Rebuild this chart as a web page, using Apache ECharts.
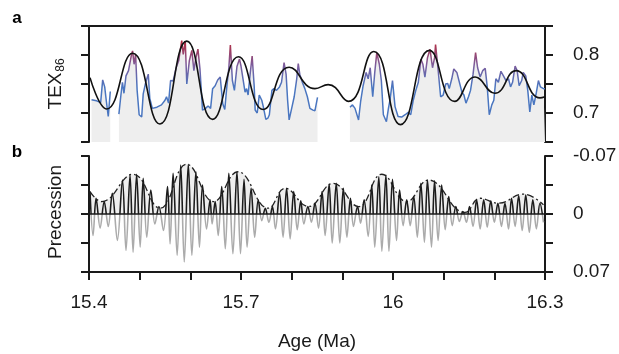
<!DOCTYPE html>
<html>
<head>
<meta charset="utf-8">
<script src="https://cdn.jsdelivr.net/npm/echarts@6/dist/echarts.min.js"></script>
<style>
html, body { margin: 0; padding: 0; background: #fff; }
#chart { width: 619px; height: 354px; }
</style>
</head>
<body>
<div id="chart"></div>
<script>
// panel a: TEX86 samples, age in Ma (null = no data)
var texAge = [
  15.405, 15.415, 15.423, 15.427, 15.431, 15.434, 15.438, 15.442, 15.450, 15.459,
  15.463, 15.466, 15.469, 15.473, 15.478, 15.481, 15.484, 15.486, 15.489, 15.492,
  15.495, 15.499, 15.504, 15.507, 15.512, 15.517, 15.520, 15.525, 15.534, 15.543,
  15.550, 15.553, 15.557, 15.561, 15.566, 15.572, 15.577, 15.583, 15.586, 15.590,
  15.593, 15.598, 15.603, 15.607, 15.611, 15.615, 15.619, 15.624, 15.630, 15.635,
  15.640, 15.644, 15.649, 15.654, 15.659, 15.664, 15.668, 15.672, 15.676, 15.679,
  15.683, 15.687, 15.692, 15.697, 15.700, 15.703, 15.708, 15.711, 15.714, 15.718,
  15.722, 15.726, 15.728, 15.732, 15.736, 15.741, 15.744, 15.749, 15.753, 15.756,
  15.761, 15.765, 15.770, 15.776, 15.780, 15.785, 15.789, 15.792, 15.795, 15.800,
  15.805, 15.810, 15.813, 15.816, 15.821, 15.826, 15.831, 15.836, 15.842, 15.846,
  15.851, 15.880, 15.915, 15.920, 15.925, 15.932, 15.936, 15.941, 15.947, 15.951,
  15.955, 15.960, 15.964, 15.968, 15.973, 15.977, 15.981, 15.987, 15.991, 15.994,
  15.999, 16.004, 16.010, 16.017, 16.024, 16.030, 16.035, 16.040, 16.045, 16.050,
  16.055, 16.059, 16.063, 16.068, 16.073, 16.078, 16.082, 16.084, 16.088, 16.094,
  16.099, 16.104, 16.108, 16.111, 16.116, 16.120, 16.126, 16.131, 16.136, 16.140,
  16.144, 16.149, 16.153, 16.158, 16.163, 16.167, 16.172, 16.177, 16.182, 16.186,
  16.190, 16.195, 16.199, 16.203, 16.208, 16.213, 16.218, 16.223, 16.228, 16.232,
  16.236, 16.241, 16.245, 16.249, 16.254, 16.257, 16.262, 16.266, 16.270, 16.274,
  16.278, 16.282, 16.287, 16.291, 16.297, 16.300
];
var texVal = [
  0.723, 0.721, 0.718, 0.757, 0.745, 0.722, 0.694, 0.737, null, 0.698,
  0.731, 0.753, 0.734, 0.764, 0.773, 0.776, 0.801, 0.807, 0.784, 0.801,
  0.739, 0.697, 0.693, 0.733, 0.753, 0.767, 0.725, 0.708, 0.710, 0.714,
  0.722, 0.728, 0.717, 0.756, 0.755, 0.778, 0.790, 0.825, 0.801, 0.824,
  0.750, 0.790, 0.808, 0.773, 0.795, 0.810, 0.776, 0.705, 0.708, 0.712,
  0.708, 0.742, 0.747, 0.757, 0.762, 0.716, 0.706, 0.745, 0.778, 0.817,
  0.756, 0.739, 0.780, 0.793, 0.781, 0.778, 0.736, 0.742, 0.731, 0.767,
  0.798, 0.747, 0.705, 0.700, 0.731, 0.722, 0.711, 0.689, 0.691, 0.697,
  0.739, 0.742, 0.739, 0.745, 0.753, 0.787, 0.767, 0.722, 0.688, 0.708,
  0.728, 0.759, 0.785, 0.767, 0.753, 0.742, 0.728, 0.708, 0.705, 0.704,
  0.727, null, 0.710, 0.714, 0.708, 0.688, 0.719, 0.747, 0.770, 0.759,
  0.778, 0.728, 0.770, 0.804, 0.784, 0.756, 0.697, 0.685, 0.708, 0.722,
  0.756, 0.711, 0.694, 0.693, 0.697, 0.701, 0.697, 0.722, 0.739, 0.753,
  0.793, 0.784, 0.762, 0.795, 0.810, 0.778, 0.795, 0.818, 0.784, 0.728,
  0.731, 0.750, 0.751, 0.742, 0.759, 0.776, 0.770, 0.753, 0.736, 0.731,
  0.717, 0.728, 0.739, 0.767, 0.804, 0.778, 0.762, 0.773, 0.777, 0.745,
  0.697, 0.714, 0.722, 0.759, 0.753, 0.772, 0.764, 0.756, 0.759, 0.745,
  0.753, 0.781, 0.773, 0.747, 0.756, 0.770, 0.764, 0.739, 0.702, 0.731,
  0.714, 0.731, 0.756, 0.745, 0.742, 0.742
];

// panel a: filtered TEX86 curve (turning points)
var fitAge = [15.402, 15.435, 15.486, 15.540, 15.593, 15.644, 15.695, 15.744, 15.795, 15.846,
              15.872, 15.912, 15.962, 16.015, 16.072, 16.122, 16.162, 16.201, 16.243, 16.290, 16.300];
var fitVal = [0.761, 0.707, 0.803, 0.681, 0.824, 0.689, 0.797, 0.706, 0.779, 0.742,
              0.749, 0.720, 0.806, 0.680, 0.808, 0.720, 0.762, 0.734, 0.773, 0.726, 0.728];

// panel b: precession (turning points)
var precAge = [
  15.402, 15.408, 15.414, 15.422, 15.430, 15.438, 15.446, 15.456, 15.466, 15.473,
  15.481, 15.487, 15.494, 15.501, 15.507, 15.514, 15.522, 15.530, 15.538, 15.547,
  15.555, 15.560, 15.566, 15.574, 15.581, 15.588, 15.596, 15.603, 15.611, 15.618,
  15.624, 15.632, 15.639, 15.643, 15.649, 15.655, 15.662, 15.669, 15.676, 15.684,
  15.692, 15.699, 15.706, 15.712, 15.720, 15.727, 15.734, 15.741, 15.748, 15.755,
  15.762, 15.768, 15.776, 15.783, 15.790, 15.797, 15.804, 15.811, 15.818, 15.824,
  15.832, 15.839, 15.846, 15.853, 15.860, 15.866, 15.874, 15.880, 15.888, 15.895,
  15.902, 15.909, 15.916, 15.922, 15.930, 15.936, 15.943, 15.951, 15.958, 15.964,
  15.972, 15.978, 15.986, 15.992, 15.999, 16.007, 16.013, 16.020, 16.027, 16.034,
  16.041, 16.048, 16.055, 16.062, 16.068, 16.076, 16.082, 16.089, 16.096, 16.103,
  16.110, 16.117, 16.124, 16.131, 16.138, 16.145, 16.151, 16.158, 16.165, 16.172,
  16.179, 16.186, 16.193, 16.200, 16.207, 16.214, 16.221, 16.228, 16.234, 16.241,
  16.248, 16.255, 16.262, 16.269, 16.276, 16.283, 16.290, 16.297
];
var precVal = [
  -0.027, 0.026, -0.019, 0.017, -0.015, 0.015, -0.025, 0.032, -0.041, 0.044,
  -0.047, 0.046, -0.048, 0.040, -0.043, 0.028, -0.029, 0.012, -0.009, 0.020,
  -0.033, 0.036, -0.049, 0.050, -0.059, 0.058, -0.060, 0.050, -0.051, 0.040,
  -0.035, 0.018, -0.017, 0.012, -0.015, 0.026, -0.033, 0.042, -0.049, 0.048,
  -0.051, 0.048, -0.042, 0.040, -0.031, 0.028, -0.017, 0.008, -0.007, 0.010,
  -0.009, 0.018, -0.025, 0.028, -0.031, 0.030, -0.027, 0.019, -0.016, 0.012,
  -0.009, 0.010, -0.013, 0.017, -0.027, 0.026, -0.036, 0.035, -0.037, 0.035,
  -0.031, 0.028, -0.019, 0.015, -0.009, 0.011, -0.017, 0.027, -0.035, 0.040,
  -0.045, 0.045, -0.047, 0.045, -0.042, 0.032, -0.029, 0.014, -0.017, 0.014,
  -0.021, 0.028, -0.037, 0.034, -0.041, 0.040, -0.040, 0.032, -0.035, 0.019,
  -0.021, 0.014, -0.009, 0.009, -0.003, 0.010, -0.009, 0.015, -0.017, 0.018,
  -0.017, 0.016, -0.016, 0.010, -0.013, 0.015, -0.013, 0.018, -0.019, 0.015,
  -0.022, 0.020, -0.023, 0.022, -0.017, 0.018, -0.013, 0.010
];

// panel b: amplitude envelope
var envAge = [15.402, 15.425, 15.487, 15.540, 15.593, 15.646, 15.694, 15.754, 15.787, 15.833,
              15.882, 15.932, 15.978, 16.027, 16.070, 16.142, 16.172, 16.208, 16.257, 16.297];
var envVal = [-0.027, -0.015, -0.048, -0.007, -0.060, -0.015, -0.051, -0.007, -0.031, -0.009,
              -0.037, -0.009, -0.048, -0.015, -0.041, -0.002, -0.019, -0.013, -0.024, -0.011];

var ageLabels = [15.4, 15.7, 16, 16.3];
var texLabels = [0.7, 0.8];
var precLabels = [-0.07, 0, 0.07];

function pairs(xs, ys) {
  return xs.map(function (x, i) { return [x, ys[i] == null ? '-' : ys[i]]; });
}
function inList(list, v) {
  return list.some(function (t) { return Math.abs(t - v) < 1e-6; });
}
function fmt(list) {
  return function (v) { return inList(list, v) ? String(+v.toFixed(3)) : ''; };
}

var ink = '#1a1a1a';
var font = '"Liberation Sans", Arial, sans-serif';
var fs = 19;

// panel b: black above the zero line, grey below (panel spans y 156..272)
var precColor = {
  type: 'linear', x: 0, y: 156, x2: 0, y2: 272, global: true,
  colorStops: [
    { offset: 0, color: '#1c1c1c' }, { offset: 0.5, color: '#1c1c1c' },
    { offset: 0.5, color: '#ababab' }, { offset: 1, color: '#ababab' }
  ]
};

function yAx(grid, pos, min, max, step, labels, inverse) {
  return {
    type: 'value', gridIndex: grid, position: pos, min: min, max: max, interval: step,
    inverse: !!inverse,
    axisLine: { show: true, onZero: false, lineStyle: { color: ink, width: 2 } },
    axisTick: { show: true, length: 8, lineStyle: { color: ink, width: 2 } },
    axisLabel: labels ? { color: ink, fontSize: fs, fontFamily: font, margin: 28, formatter: fmt(labels) }
                      : { show: false },
    splitLine: { show: false }
  };
}

var chart = echarts.init(document.getElementById('chart'));
chart.setOption({
  animation: false,
  textStyle: { fontFamily: font },
  grid: [
    { left: 89, top: 26, width: 456, height: 116, outerBoundsMode: 'none' },
    { left: 89, top: 156, width: 456, height: 116, outerBoundsMode: 'none' }
  ],
  xAxis: [
    {
      type: 'value', gridIndex: 0, position: 'top', min: 15.4, max: 16.3,
      axisLine: { onZero: false, lineStyle: { color: ink, width: 2 } },
      axisTick: { show: false }, axisLabel: { show: false }, splitLine: { show: false }
    },
    {
      type: 'value', gridIndex: 1, position: 'bottom', min: 15.4, max: 16.3, interval: 0.1,
      name: 'Age (Ma)', nameLocation: 'middle', nameGap: 60,
      nameTextStyle: { color: ink, fontSize: fs, fontFamily: font },
      axisLine: { onZero: false, lineStyle: { color: ink, width: 2 } },
      axisTick: { length: 8, lineStyle: { color: ink, width: 2 } },
      axisLabel: { color: ink, fontSize: fs, fontFamily: font, margin: 21, formatter: fmt(ageLabels) },
      splitLine: { show: false }
    }
  ],
  yAxis: [
    yAx(0, 'left', 0.65, 0.85, 0.05, null),
    yAx(0, 'right', 0.65, 0.85, 0.05, texLabels),
    yAx(1, 'left', -0.07, 0.07, 0.035, null, true),
    yAx(1, 'right', -0.07, 0.07, 0.035, precLabels, true)
  ],
  visualMap: [
    { type: 'continuous', show: false, seriesIndex: 0, dimension: 1, min: 0.745, max: 0.82,
      inRange: { color: ['#4a76c0', '#7c5c9c', '#b02f46'] } }
  ],
  series: [
    {
      type: 'line', xAxisIndex: 0, yAxisIndex: 0, data: pairs(texAge, texVal),
      showSymbol: false, connectNulls: false, z: 2,
      lineStyle: { width: 1.5 },
      areaStyle: { color: '#eeeeee', opacity: 1, origin: 'start' }
    },
    {
      type: 'line', xAxisIndex: 0, yAxisIndex: 0, data: pairs(fitAge, fitVal),
      showSymbol: false, smooth: 0.5, z: 3,
      lineStyle: { color: '#111', width: 1.6 }
    },
    {
      type: 'line', xAxisIndex: 1, yAxisIndex: 2, data: pairs(envAge, envVal),
      showSymbol: false, smooth: 0.45, z: 2,
      lineStyle: { color: '#222', width: 1.3, type: [7, 3, 2, 3] },
      areaStyle: { color: '#eeeeee', opacity: 1, origin: 'auto' }
    },
    {
      type: 'line', xAxisIndex: 1, yAxisIndex: 2, data: pairs(precAge, precVal),
      showSymbol: false, smooth: 0.35, z: 3,
      itemStyle: { color: '#1c1c1c' },
      lineStyle: { width: 1.6, color: precColor },
      markLine: {
        silent: true, symbol: 'none', label: { show: false },
        lineStyle: { color: ink, width: 1.5, type: 'solid' },
        data: [{ yAxis: 0 }]
      }
    }
  ],
  graphic: [
    { type: 'text', x: 17, y: 18, style: { text: 'a', fontSize: 17, fontWeight: 'bold', fontFamily: font, fill: '#000', align: 'center', verticalAlign: 'middle' } },
    { type: 'text', x: 17, y: 152, style: { text: 'b', fontSize: 17, fontWeight: 'bold', fontFamily: font, fill: '#000', align: 'center', verticalAlign: 'middle' } },
    { type: 'text', x: 56, y: 91, rotation: Math.PI / 2, style: { text: 'TEX', fontSize: fs, fontFamily: font, fill: ink, align: 'center', verticalAlign: 'middle' } },
    { type: 'text', x: 61, y: 65, rotation: Math.PI / 2, style: { text: '86', fontSize: 12, fontFamily: font, fill: ink, align: 'center', verticalAlign: 'middle' } },
    { type: 'text', x: 56, y: 212, rotation: Math.PI / 2, style: { text: 'Precession', fontSize: fs, fontFamily: font, fill: ink, align: 'center', verticalAlign: 'middle' } }
  ]
});
</script>
</body>
</html>
